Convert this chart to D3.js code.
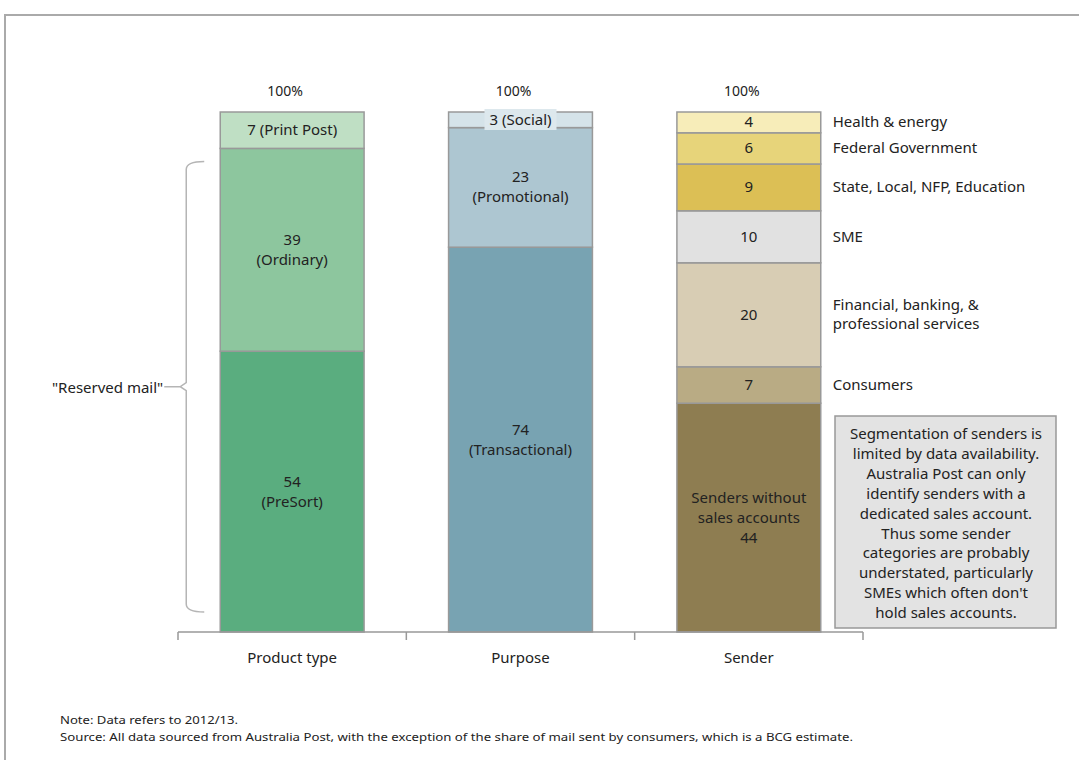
<!DOCTYPE html>
<html>
<head>
<meta charset="utf-8">
<script src="https://cdn.jsdelivr.net/npm/d3@7"></script>
<style>
  body { margin: 0; background: #fff; }
  text { font-family: "Noto Sans", "Open Sans", sans-serif; fill: #222; }
</style>
</head>
<body>
<div class="chart"></div>
<script>
var categories = ["Product type", "Purpose", "Sender"];
var totalLabels = ["100%", "100%", "100%"];

var productNames = ["PreSort", "Ordinary", "Print Post"];
var productValues = [54, 39, 7];
var productColors = ["#5aad7f", "#8dc69e", "#bfdfc4"];

var purposeNames = ["Transactional", "Promotional", "Social"];
var purposeValues = [74, 23, 3];
var purposeColors = ["#78a3b2", "#adc6d1", "#d5e3e9"];

var senderNames = ["Senders without\nsales accounts", "Consumers", "Financial, banking, &\nprofessional services", "SME",
  "State, Local, NFP, Education", "Federal Government", "Health & energy"];
var senderValues = [44, 7, 20, 10, 9, 6, 4];
var senderColors = ["#8e7d51", "#b9ab84", "#d8cdb4", "#e1e1e1", "#dcbf55", "#e7d47a", "#f7edb9"];

var noteLines = ["Segmentation of senders is", "limited by data availability.", "Australia Post can only",
  "identify senders with a", "dedicated sales account.", "Thus some sender", "categories are probably",
  "understated, particularly", "SMEs which often don't", "hold sales accounts."];

var W = 1079, H = 760;

var svg = d3.select(".chart").append("svg")
    .attr("width", W)
    .attr("height", H);

// frame
svg.append("path")
    .attr("d", "M5,760 V15 H1079")
    .attr("fill", "none")
    .attr("stroke", "#aaa")
    .attr("stroke-width", 2);

var xS = d3.scaleBand().domain(categories).range([178, 863]).paddingInner(0.37).paddingOuter(0.185);
var yS = d3.scaleLinear().domain([0, 100]).range([632, 112]);

function stackUp(names, values, colors) {
    var acc = 0;
    return values.map(function(v, i) {
        var d = { name: names[i], value: v, y0: acc, y1: acc + v, color: colors[i] };
        acc += v;
        return d;
    });
}

var stacks = [
    stackUp(productNames, productValues, productColors),
    stackUp(purposeNames, purposeValues, purposeColors),
    stackUp(senderNames, senderValues, senderColors)
];

var Chrt = svg.append("g");

stacks.forEach(function(stack, ci) {
    var cat = categories[ci];
    var g = Chrt.append("g");

    g.selectAll("rect")
        .data(stack)
        .enter()
        .append("rect")
        .attr("x", xS(cat))
        .attr("width", xS.bandwidth())
        .attr("y", function(d) { return yS(d.y1); })
        .attr("height", function(d) { return yS(d.y0) - yS(d.y1); })
        .attr("fill", function(d) { return d.color; })
        .attr("stroke", "#999")
        .attr("stroke-width", 1.5);

    var cx = xS(cat) + xS.bandwidth() / 2;

    g.append("text")
        .attr("x", cx - 7)
        .attr("y", yS(100) - 16)
        .attr("text-anchor", "middle")
        .style("font-size", "14px")
        .text(totalLabels[ci]);

    stack.forEach(function(d, i) {
        var mid = (yS(d.y0) + yS(d.y1)) / 2;
        var lines;
        if (ci === 2) {
            lines = (i === 0) ? d.name.split("\n").concat([String(d.value)]) : [String(d.value)];
        } else if (d.value < 10) {
            lines = [d.value + " (" + d.name + ")"];
        } else {
            lines = [String(d.value), "(" + d.name + ")"];
        }

        if (ci === 1 && d.value < 10) {
            g.append("rect")
                .attr("x", cx - 36)
                .attr("y", yS(d.y1) - 3)
                .attr("width", 72)
                .attr("height", 21)
                .attr("fill", "#dde8ed");
        }

        var lh = 20;
        var t = g.append("text")
            .attr("text-anchor", "middle")
            .style("font-size", "15px");
        lines.forEach(function(l, k) {
            t.append("tspan")
                .attr("x", cx)
                .attr("y", mid + (k - (lines.length - 1) / 2) * lh + 5)
                .text(l);
        });

        if (ci === 2 && i > 0) {
            var nl = d.name.split("\n");
            var st = g.append("text")
                .attr("text-anchor", "start")
                .style("font-size", "15px");
            nl.forEach(function(l, k) {
                st.append("tspan")
                    .attr("x", xS(cat) + xS.bandwidth() + 12)
                    .attr("y", mid + (k - (nl.length - 1) / 2) * 19 + 5)
                    .text(l);
            });
        }
    });
});

// axis
var axisG = svg.append("g").attr("transform", "translate(0,632)");
axisG.append("line")
    .attr("x1", 178).attr("x2", 863)
    .attr("stroke", "#999").attr("stroke-width", 1.5);
var edges = [178].concat(categories.map(function(c) { return xS(c) + xS.bandwidth() + xS.step() * 0.185; }));
axisG.selectAll(".tk")
    .data(edges)
    .enter()
    .append("line")
    .attr("x1", function(d) { return d; })
    .attr("x2", function(d) { return d; })
    .attr("y1", 0).attr("y2", 8)
    .attr("stroke", "#999").attr("stroke-width", 1.5);
axisG.selectAll(".cl")
    .data(categories)
    .enter()
    .append("text")
    .attr("x", function(d) { return xS(d) + xS.bandwidth() / 2; })
    .attr("y", 31)
    .attr("text-anchor", "middle")
    .style("font-size", "15px")
    .text(function(d) { return d; });

// "Reserved mail" bracket
var bx = xS(categories[0]) - 34;
var bTop = yS(productValues[0] + productValues[1]) + 13;
var bBot = yS(0) - 20;
var bMid = (bTop + bBot) / 2;
svg.append("path")
    .attr("d", "M" + (bx + 18) + "," + bTop +
        " Q" + bx + "," + bTop + " " + bx + "," + (bTop + 8) +
        " V" + (bMid - 4) + " L" + (bx - 6) + "," + bMid + " L" + bx + "," + (bMid + 4) +
        " V" + (bBot - 8) +
        " Q" + bx + "," + bBot + " " + (bx + 18) + "," + bBot +
        " M" + (bx - 6) + "," + bMid + " H" + (bx - 22))
    .attr("fill", "none")
    .attr("stroke", "#b5b5b5")
    .attr("stroke-width", 1.5);
svg.append("text")
    .attr("x", bx - 23)
    .attr("y", bMid + 6)
    .attr("text-anchor", "end")
    .style("font-size", "15px")
    .text("\"Reserved mail\"");

// note box
var nb = svg.append("g");
nb.append("rect")
    .attr("x", 835).attr("y", 416)
    .attr("width", 221).attr("height", 212)
    .attr("fill", "#e3e3e3")
    .attr("stroke", "#999")
    .attr("stroke-width", 1.5);
var nt = nb.append("text")
    .attr("text-anchor", "middle")
    .style("font-size", "15px");
noteLines.forEach(function(l, k) {
    nt.append("tspan")
        .attr("x", 946)
        .attr("y", 439 + k * 19.9)
        .text(l);
});

// footnotes
svg.append("text")
    .attr("x", 60).attr("y", 724)
    .style("font-size", "11px")
    .attr("textLength", 178)
    .attr("lengthAdjust", "spacingAndGlyphs")
    .text("Note: Data refers to 2012/13.");
svg.append("text")
    .attr("x", 60).attr("y", 741)
    .style("font-size", "11px")
    .attr("textLength", 793)
    .attr("lengthAdjust", "spacingAndGlyphs")
    .text("Source: All data sourced from Australia Post, with the exception of the share of mail sent by consumers, which is a BCG estimate.");
</script>
</body>
</html>
